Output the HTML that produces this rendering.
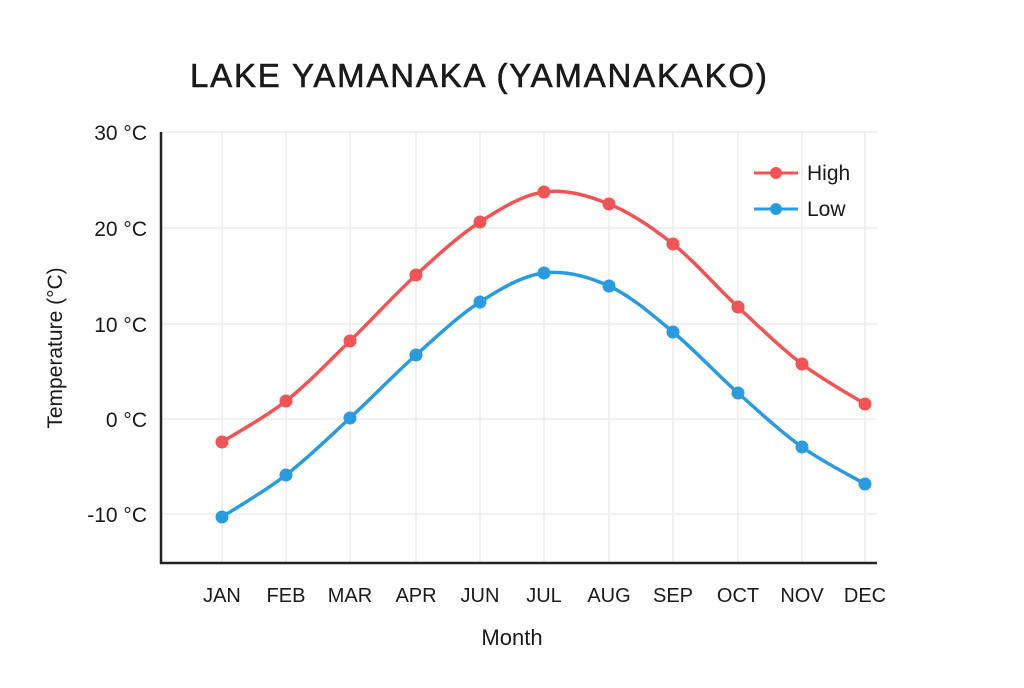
<!DOCTYPE html>
<html><head><meta charset="utf-8"><style>
body{margin:0;background:#fff;}
svg text{font-family:"Liberation Sans",sans-serif;fill:#1a1a1a;}
</style></head><body>
<svg id="s" width="1024" height="683" viewBox="0 0 1024 683" xmlns="http://www.w3.org/2000/svg">
<rect width="1024" height="683" fill="#fff"/>
<text x="190" y="87" font-size="33" letter-spacing="1.8" stroke="#1a1a1a" stroke-width="0.6">LAKE YAMANAKA (YAMANAKAKO)</text>
<g stroke="#ececec" stroke-width="1.5">
<line x1="161" y1="132" x2="877" y2="132"/><line x1="161" y1="228" x2="877" y2="228"/>
<line x1="161" y1="324" x2="877" y2="324"/><line x1="161" y1="419" x2="877" y2="419"/>
<line x1="161" y1="514" x2="877" y2="514"/>
<line x1="222" y1="132" x2="222" y2="563"/><line x1="286" y1="132" x2="286" y2="563"/>
<line x1="350" y1="132" x2="350" y2="563"/><line x1="416" y1="132" x2="416" y2="563"/>
<line x1="480" y1="132" x2="480" y2="563"/><line x1="544" y1="132" x2="544" y2="563"/>
<line x1="609" y1="132" x2="609" y2="563"/><line x1="673" y1="132" x2="673" y2="563"/>
<line x1="738" y1="132" x2="738" y2="563"/><line x1="802" y1="132" x2="802" y2="563"/>
<line x1="865" y1="132" x2="865" y2="563"/>
</g>
<polyline points="161,132 161,563 877,563" fill="none" stroke="#222" stroke-width="2.5"/>
<g font-size="21" text-anchor="end">
<text x="147" y="140">30 °C</text><text x="147" y="236">20 °C</text>
<text x="147" y="332">10 °C</text><text x="147" y="427">0 °C</text>
<text x="147" y="522">-10 °C</text>
</g>
<g font-size="20" text-anchor="middle">
<text x="222" y="602">JAN</text><text x="286" y="602">FEB</text><text x="350" y="602">MAR</text>
<text x="416" y="602">APR</text><text x="480" y="602">JUN</text><text x="544" y="602">JUL</text>
<text x="609" y="602">AUG</text><text x="673" y="602">SEP</text><text x="738" y="602">OCT</text>
<text x="802" y="602">NOV</text><text x="865" y="602">DEC</text>
</g>
<text x="512" y="645" font-size="22" text-anchor="middle">Month</text>
<text transform="translate(62,348) rotate(-90)" font-size="21" text-anchor="middle">Temperature (°C)</text>
<line x1="754" y1="173" x2="798" y2="173" stroke="#f05454" stroke-width="3"/>
<circle cx="776" cy="173" r="6" fill="#f05454"/>
<text x="807" y="180" font-size="21">High</text>
<line x1="754" y1="209" x2="798" y2="209" stroke="#2b9be0" stroke-width="3"/>
<circle cx="776" cy="209" r="6" fill="#2b9be0"/>
<text x="807" y="216" font-size="21">Low</text>
<g id="series"></g>
</svg>
<script>
var xs=[222,286,350,416,480,544,609,673,738,802,865];
var hi=[442,401,341,275,222,192,204,244,307,364,404];
var lo=[517,475,418,355,302,273,286,332,393,447,484];
function path(ys){var d="M"+xs[0]+","+ys[0];for(var i=0;i<xs.length-1;i++){var x0=xs[Math.max(i-1,0)],y0=ys[Math.max(i-1,0)],x1=xs[i],y1=ys[i],x2=xs[i+1],y2=ys[i+1],x3=xs[Math.min(i+2,xs.length-1)],y3=ys[Math.min(i+2,xs.length-1)];d+=" C"+(x1+(x2-x0)/6)+","+(y1+(y2-y0)/6)+" "+(x2-(x3-x1)/6)+","+(y2-(y3-y1)/6)+" "+x2+","+y2;}return d;}
var g=document.getElementById("series"),h="";
[[hi,"#f05454"],[lo,"#2b9be0"]].forEach(function(p){h+='<path d="'+path(p[0])+'" fill="none" stroke="'+p[1]+'" stroke-width="3.5"/>';for(var i=0;i<xs.length;i++)h+='<circle cx="'+xs[i]+'" cy="'+p[0][i]+'" r="6.5" fill="'+p[1]+'"/>';});
g.innerHTML=h;
</script>
</body></html>
